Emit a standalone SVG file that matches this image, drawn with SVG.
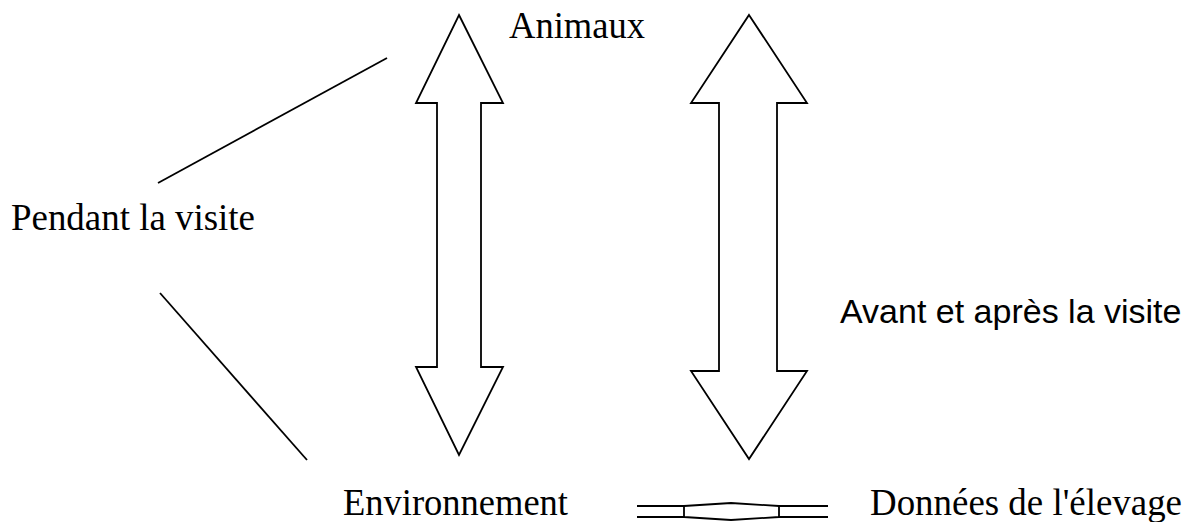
<svg xmlns="http://www.w3.org/2000/svg" width="1190" height="522" viewBox="0 0 1190 522">
  <style>
    .shape { fill: #ffffff; stroke: #000000; stroke-width: 1.8; stroke-linejoin: miter; }
    .line { fill: none; stroke: #000000; stroke-width: 1.8; }
    .serif { font-family: "Liberation Serif", "Times New Roman", serif; font-size: 37px; fill: #000000; }
    .sans { font-family: "Liberation Sans", Arial, sans-serif; font-size: 34px; fill: #000000; }
  </style>
  <rect width="1190" height="522" fill="#ffffff"/>

  <!-- connectors -->
  <g id="connectors">
    <line class="line" x1="158" y1="183" x2="387" y2="58"/>
    <line class="line" x1="160" y1="293" x2="307" y2="460"/>
  </g>

  <!-- vertical double arrow: Animaux / Environnement -->
  <g id="arrow-left">
    <polygon class="shape" points="459,15 503,103 481,103 481,367 503,367 459,455 416,367 437,367 437,103 416,103"/>
  </g>

  <!-- vertical double arrow: before and after the visit -->
  <g id="arrow-right">
    <polygon class="shape" points="749,15 807,103 777,103 777,371 807,371 749,459 691,371 719,371 719,103 691,103"/>
  </g>

  <!-- flattened horizontal double arrow -->
  <g id="arrow-bottom">
    <path class="line" d="M637,506 L684,506 L731,503 L779,506 L828,506 M637,517 L684,517 L731,520 L779,517 L828,517 M684,506 L684,517 M779,506 L779,517"/>
  </g>

  <g id="node-animaux">
    <text class="serif" x="509" y="38" textLength="136" lengthAdjust="spacingAndGlyphs">Animaux</text>
  </g>
  <g id="node-pendant">
    <text class="serif" x="11" y="230" textLength="244" lengthAdjust="spacingAndGlyphs">Pendant la visite</text>
  </g>
  <g id="node-avant">
    <text class="sans" x="840" y="323">Avant et après la visite</text>
  </g>
  <g id="node-environnement">
    <text class="serif" x="343" y="515" textLength="225" lengthAdjust="spacingAndGlyphs">Environnement</text>
  </g>
  <g id="node-donnees">
    <text class="serif" x="870" y="515" textLength="312" lengthAdjust="spacingAndGlyphs">Données de l'élevage</text>
  </g>
</svg>
